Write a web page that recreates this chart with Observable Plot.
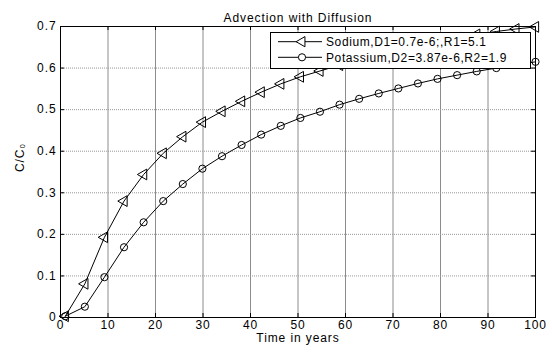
<!DOCTYPE html>
<html>
<head>
<meta charset="utf-8">
<script src="https://cdn.jsdelivr.net/npm/d3@7"></script>
<script src="https://cdn.jsdelivr.net/npm/@observablehq/plot@0.6"></script>
<style>
  html, body { margin: 0; padding: 0; background: #fff; }
  #chart { width: 552px; height: 352px; }
</style>
</head>
<body>
<div id="chart"></div>
<script>
const years = [1, 5.125, 9.25, 13.375, 17.5, 21.625, 25.75, 29.875, 34, 38.125, 42.25, 46.375, 50.5, 54.625, 58.75, 62.875, 67, 71.125, 75.25, 79.375, 83.5, 87.625, 91.75, 95.875, 100];
const sodium = [0.003, 0.081, 0.193, 0.280, 0.344, 0.395, 0.435, 0.470, 0.496, 0.520, 0.542, 0.562, 0.579, 0.593, 0.607, 0.620, 0.632, 0.643, 0.654, 0.664, 0.673, 0.681, 0.688, 0.694, 0.699];
const potassium = [0.003, 0.026, 0.097, 0.169, 0.229, 0.280, 0.321, 0.358, 0.388, 0.415, 0.440, 0.461, 0.480, 0.495, 0.512, 0.526, 0.539, 0.551, 0.563, 0.574, 0.583, 0.592, 0.600, 0.608, 0.615];
const xTicks = [0, 10, 20, 30, 40, 50, 60, 70, 80, 90, 100];
const yTicks = [0, 0.1, 0.2, 0.3, 0.4, 0.5, 0.6, 0.7];
const yTickLabels = ["0", "0.1", "0.2", "0.3", "0.4", "0.5", "0.6", "0.7"];
const seriesNames = ["Sodium,D1=0.7e-6;,R1=5.1", "Potassium,D2=3.87e-6,R2=1.9"];
const titleText = "Advection with Diffusion";
const xLabel = "Time in years";
const yLabel = "C/C\u2080";

const W = 552, H = 352, mL = 60, mR = 17, mT = 26, mB = 35;
const innerW = W - mL - mR, innerH = H - mT - mB;

const sodiumData = years.map((x, i) => ({x, y: sodium[i]}));
const potassiumData = years.map((x, i) => ({x, y: potassium[i]}));

const font = "'Liberation Sans', Arial, Helvetica, sans-serif";

const chart = Plot.plot({
  width: W, height: H,
  marginLeft: mL, marginRight: mR, marginTop: mT, marginBottom: mB,
  style: {fontFamily: font, fontSize: "12px", letterSpacing: "0.9px", background: "white", color: "black", overflow: "visible"},
  x: {domain: [0, 100], label: null},
  y: {domain: [0, 0.7], label: null},
  marks: [
    Plot.gridX(xTicks, {x: d => d, stroke: "#8c8c8c", strokeOpacity: 1, strokeWidth: 1}),
    Plot.gridY(yTicks, {y: d => d, stroke: "#999", strokeOpacity: 1, strokeWidth: 1, strokeDasharray: "1,1"}),
    Plot.tickX(xTicks, {x: d => d, insetTop: innerH - 4, stroke: "black"}),
    Plot.tickX(xTicks, {x: d => d, insetBottom: innerH - 4, stroke: "black"}),
    Plot.tickY(yTicks, {y: d => d, insetRight: innerW - 4, stroke: "black"}),
    Plot.tickY(yTicks, {y: d => d, insetLeft: innerW - 4, stroke: "black"}),
    Plot.axisX(xTicks, {tickSize: 0, tickPadding: 3, fontSize: 12, label: null}),
    Plot.axisY(yTicks, {tickSize: 0, tickPadding: 4, fontSize: 12, label: null, tickFormat: (d, i) => yTickLabels[i]}),
    Plot.line(sodiumData, {x: "x", y: "y", stroke: "black", strokeWidth: 1}),
    Plot.dot(sodiumData, {x: "x", y: "y", symbol: "triangle", rotate: -90, r: 4, stroke: "black", fill: "none", strokeWidth: 1}),
    Plot.line(potassiumData, {x: "x", y: "y", stroke: "black", strokeWidth: 1}),
    Plot.dot(potassiumData, {x: "x", y: "y", symbol: "circle", r: 3.6, stroke: "black", fill: "none", strokeWidth: 1}),
    Plot.frame({stroke: "black", strokeWidth: 1}),
    Plot.text([titleText], {frameAnchor: "top", dy: -13, fontSize: 12, fill: "black"}),
    Plot.text([xLabel], {frameAnchor: "bottom", dy: 24, fontSize: 12, fill: "black"}),
    Plot.text([yLabel], {frameAnchor: "left", dx: -40, rotate: -90, fontSize: 12, fill: "black"})
  ]
});

document.getElementById("chart").appendChild(chart);

// Legend (MATLAB style box, top-right inside the axes)
const svg = d3.select(chart);
const lg = svg.append("g").attr("font-family", font).attr("font-size", 12).attr("text-anchor", "start");
lg.append("rect").attr("x", 270.5).attr("y", 32.5).attr("width", 260).attr("height", 36)
  .attr("fill", "white").attr("stroke", "black").attr("stroke-width", 1);
const rowsY = [41.7, 57.3];
const tri = d3.symbol(d3.symbolTriangle, Math.PI * 4 * 4 * 0.9)();
rowsY.forEach((ry, i) => {
  lg.append("line").attr("x1", 278).attr("x2", 322).attr("y1", ry).attr("y2", ry).attr("stroke", "black");
  if (i === 0) {
    lg.append("path").attr("d", tri).attr("transform", `translate(302,${ry}) rotate(-90)`).attr("fill", "white").attr("stroke", "black");
  } else {
    lg.append("circle").attr("cx", 302).attr("cy", ry).attr("r", 3.6).attr("fill", "white").attr("stroke", "black");
  }
  lg.append("text").attr("x", 326).attr("y", ry).attr("dy", "0.35em").attr("fill", "black")
    .attr("text-anchor", "start").style("letter-spacing", "0.6px").text(seriesNames[i]);
});
</script>
</body>
</html>
